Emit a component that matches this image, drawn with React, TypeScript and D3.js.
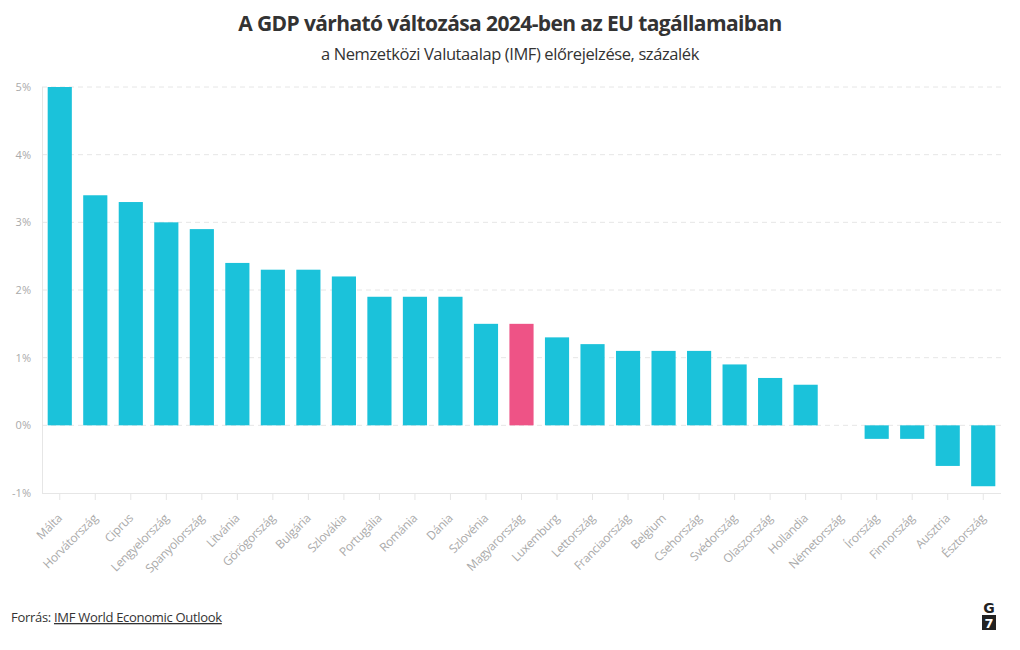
import React from "react";
import * as d3 from "d3";

const categories = ["Málta","Horvátország","Ciprus","Lengyelország","Spanyolország","Litvánia","Görögország","Bulgária","Szlovákia","Portugália","Románia","Dánia","Szlovénia","Magyarország","Luxemburg","Lettország","Franciaország","Belgium","Csehország","Svédország","Olaszország","Hollandia","Németország","Írország","Finnország","Ausztria","Észtország"];
const values = [5,3.4,3.3,3.0,2.9,2.4,2.3,2.3,2.2,1.9,1.9,1.9,1.5,1.5,1.3,1.2,1.1,1.1,1.1,0.9,0.7,0.6,0,-0.2,-0.2,-0.6,-0.9];
const highlight = ["Magyarország"];
const yTicks = [-1,0,1,2,3,4,5];

const W = 1020, H = 650;
const FONT = "'Open Sans', 'Noto Sans', sans-serif";

export default function App() {
  const x = d3.scaleBand<string>().domain(categories).range([42, 1001]).paddingInner(0.32).paddingOuter(0.16);
  const y = d3.scaleLinear().domain([-1, 5]).range([493, 87]);
  const bw = x.bandwidth();
  return (
    <div style={{ position: "absolute", left: 0, top: 0 }}>
      <svg width={W} height={H} style={{ display: "block", background: "#fff" }}>
        <text x={510} y={31} textAnchor="middle" fontFamily={FONT} fontWeight={700} fontSize={21} fill="#333" letterSpacing={-0.6}>A GDP várható változása 2024-ben az EU tagállamaiban</text>
        <text x={510} y={60} textAnchor="middle" fontFamily={FONT} fontSize={16.5} fill="#333" letterSpacing={-0.4}>a Nemzetközi Valutaalap (IMF) előrejelzése, százalék</text>
        {yTicks.map(t => (
          <g key={t}>
            {t !== -1 && <line x1={42} x2={1001} y1={y(t)} y2={y(t)} stroke="#e6e6e6" strokeDasharray="5,4" />}
            <text x={31} y={y(t)} dy="0.35em" textAnchor="end" fontFamily={FONT} fontSize={11} fill="#aaa">{t}%</text>
          </g>
        ))}
        <line x1={42.5} x2={42.5} y1={87} y2={493} stroke="#e6e6e6" />
        <line x1={42} x2={1001} y1={493.5} y2={493.5} stroke="#e6e6e6" />
        {categories.map((c, i) => {
          const v = values[i];
          const y0 = y(Math.max(0, v)), y1 = y(Math.min(0, v));
          const cx = (x(c) as number) + bw / 2;
          return (
            <g key={c}>
              {v !== 0 && <rect x={x(c)} y={y0} width={bw} height={y1 - y0} fill={highlight.includes(c) ? "#ee5386" : "#1bc2da"} />}
              <line x1={cx} x2={cx} y1={494} y2={500} stroke="#e6e6e6" />
              <text transform={`translate(${cx + 3},${519}) rotate(-45)`} textAnchor="end" fontFamily={FONT} fontSize={12} fill="#aaa" letterSpacing={-0.3}>{c}</text>
            </g>
          );
        })}
        <text x={11} y={622} fontFamily={FONT} fontSize={13} fill="#333" letterSpacing={-0.3}>
          Forrás: <tspan textDecoration="underline">IMF World Economic Outlook</tspan>
        </text>
        <text x={989} y={613} textAnchor="middle" fontFamily="'DejaVu Sans', sans-serif" fontWeight={700} fontSize={14} fill="#222">G</text>
        <rect x={982} y={615} width={14} height={15} fill="#222" />
        <text x={989} y={628} textAnchor="middle" fontFamily="'DejaVu Sans', sans-serif" fontWeight={700} fontSize={13} fill="#fff">7</text>
      </svg>
    </div>
  );
}
